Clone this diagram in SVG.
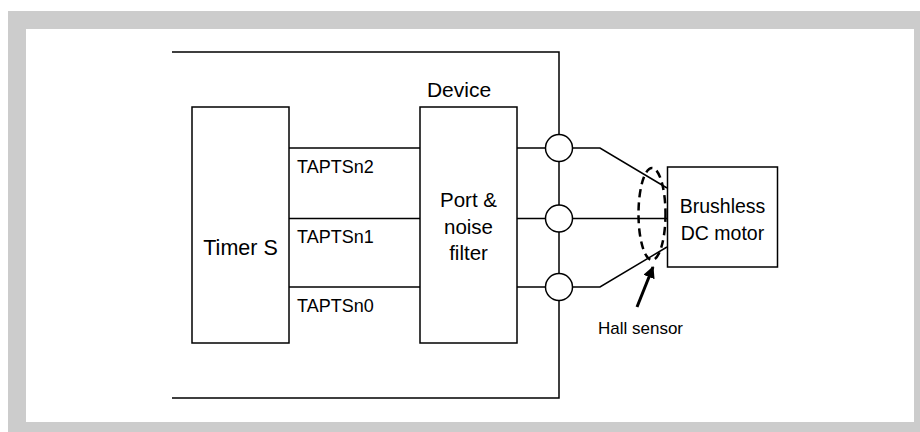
<svg xmlns="http://www.w3.org/2000/svg" width="920" height="432" viewBox="0 0 920 432">
<defs>
<style>
.ln{stroke:#000;stroke-width:1.5;fill:none}
.box{stroke:#000;stroke-width:1.5;fill:#fff}
.t{font-family:"Liberation Sans",Arial,sans-serif;fill:#000}
</style>
<marker id="ah" viewBox="0 0 10 10" refX="9" refY="5" markerWidth="4" markerHeight="4" orient="auto" markerUnits="strokeWidth">
<path d="M0,0 L10,5 L0,10 z" fill="#000"/>
</marker>
</defs>
<rect x="8" y="11" width="912" height="421" fill="#ccc"/>
<rect x="26" y="29" width="888" height="393" fill="#fff"/>
<g id="device">
<path class="ln" d="M172,52 H559 V398 H172"/>
<text class="t" x="459" y="97" font-size="21" text-anchor="middle">Device</text>
</g>
<g id="connectors">
<line class="ln" x1="289" y1="148" x2="420" y2="148"/>
<line class="ln" x1="289" y1="218.5" x2="420" y2="218.5"/>
<line class="ln" x1="289" y1="287" x2="420" y2="287"/>
<path class="ln" d="M517,148 H600 L667,188"/>
<path class="ln" d="M517,218.5 H667"/>
<path class="ln" d="M517,287 H600 L667,247"/>
<line x1="637" y1="307" x2="653" y2="267" stroke="#000" stroke-width="3" marker-end="url(#ah)"/>
</g>
<g id="timer">
<rect class="box" x="192" y="107" width="97" height="236"/>
<text class="t" x="240.5" y="255" font-size="21.5" text-anchor="middle">Timer S</text>
</g>
<g id="labels">
<text class="t" x="297" y="173" font-size="18">TAPTSn2</text>
<text class="t" x="297" y="243" font-size="18">TAPTSn1</text>
<text class="t" x="297" y="312" font-size="18">TAPTSn0</text>
</g>
<g id="port">
<rect class="box" x="420" y="107" width="97" height="236"/>
<text class="t" font-size="20.5" text-anchor="middle"><tspan x="468.5" y="207">Port &amp;</tspan><tspan x="468.5" y="233.5">noise</tspan><tspan x="468.5" y="260">filter</tspan></text>
</g>
<g id="pins">
<circle class="box" cx="559" cy="148" r="13.5"/>
<circle class="box" cx="559" cy="218.5" r="13.5"/>
<circle class="box" cx="559" cy="287" r="13.5"/>
</g>
<g id="motor">
<rect class="box" x="667.5" y="167" width="110" height="100"/>
<text class="t" font-size="19.5" text-anchor="middle"><tspan x="722.5" y="213">Brushless</tspan><tspan x="722.5" y="240">DC motor</tspan></text>
</g>
<g id="hall">
<ellipse cx="652" cy="214" rx="13.5" ry="46" fill="none" stroke="#000" stroke-width="2.5" stroke-dasharray="8,5"/>
<text class="t" x="640.5" y="334" font-size="17" text-anchor="middle">Hall sensor</text>
</g>
</svg>
